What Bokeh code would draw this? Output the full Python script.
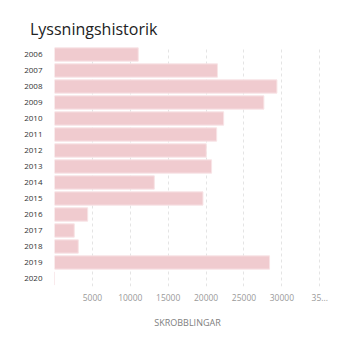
from bokeh.plotting import figure
from bokeh.models import FactorRange, Range1d, FixedTicker, Title, ColumnDataSource
from bokeh.embed import file_html
from bokeh.resources import INLINE

years = ["2006", "2007", "2008", "2009", "2010", "2011", "2012", "2013",
         "2014", "2015", "2016", "2017", "2018", "2019", "2020"]
scrobbles = [11050, 21500, 29350, 27630, 22320, 21400, 20030, 20730,
             13170, 19590, 4380, 2610, 3140, 28380, 0]
x_ticks = [0, 5000, 10000, 15000, 20000, 25000, 30000, 35000]
x_tick_labels = {0: "", 35000: "35..."}

FONT = "Open Sans"

src = ColumnDataSource(dict(year=years, value=scrobbles))

p = figure(width=361, height=342, output_backend="svg", toolbar_location=None,
           y_range=FactorRange(factors=list(reversed(years))),
           x_range=Range1d(0, 35100),
           min_border_left=54, min_border_right=41, min_border_top=46,
           min_border_bottom=56, outline_line_color=None)

p.title = None
spacer = Title(text=" ", text_font=FONT, text_font_size="4px", standoff=0)
p.add_layout(spacer, "above")
t = Title(text="Lyssningshistorik", text_font=FONT, text_font_size="16px",
          text_font_style="normal", text_color="#222222", align="left",
          offset=-24.5, standoff=0)
p.add_layout(t, "above")

p.hbar(y="year", right="value", left=0, height=0.83, source=src,
       fill_color="#f0cbcf", line_color="#f8e4e6", line_width=1)

p.ygrid.grid_line_color = None
p.xgrid.grid_line_color = "#e4e4e4"
p.xgrid.grid_line_dash = "3 3"
p.xgrid.grid_line_width = 1

p.xaxis.ticker = FixedTicker(ticks=x_ticks)
p.xaxis.major_label_overrides = x_tick_labels
p.xaxis.axis_line_color = None
p.xaxis.major_tick_line_color = None
p.xaxis.minor_tick_line_color = None
p.xaxis.major_tick_out = 0
p.xaxis.major_label_standoff = 7
p.xaxis.major_label_text_font = FONT
p.xaxis.major_label_text_font_size = "8.5px"
p.xaxis.major_label_text_color = "#9a9a9a"
p.xaxis.axis_label = "SKROBBLINGAR"
p.xaxis.axis_label_text_font = FONT
p.xaxis.axis_label_text_font_size = "9px"
p.xaxis.axis_label_text_font_style = "normal"
p.xaxis.axis_label_text_color = "#808080"
p.xaxis.axis_label_standoff = 12

p.yaxis.axis_line_color = None
p.yaxis.major_tick_line_color = None
p.yaxis.minor_tick_line_color = None
p.yaxis.major_tick_out = 0
p.yaxis.major_label_standoff = 12
p.yaxis.major_label_text_font = FONT
p.yaxis.major_label_text_font_size = "8px"
p.yaxis.major_label_text_color = "#333333"

open("out.html", "w").write(file_html(p, INLINE))
